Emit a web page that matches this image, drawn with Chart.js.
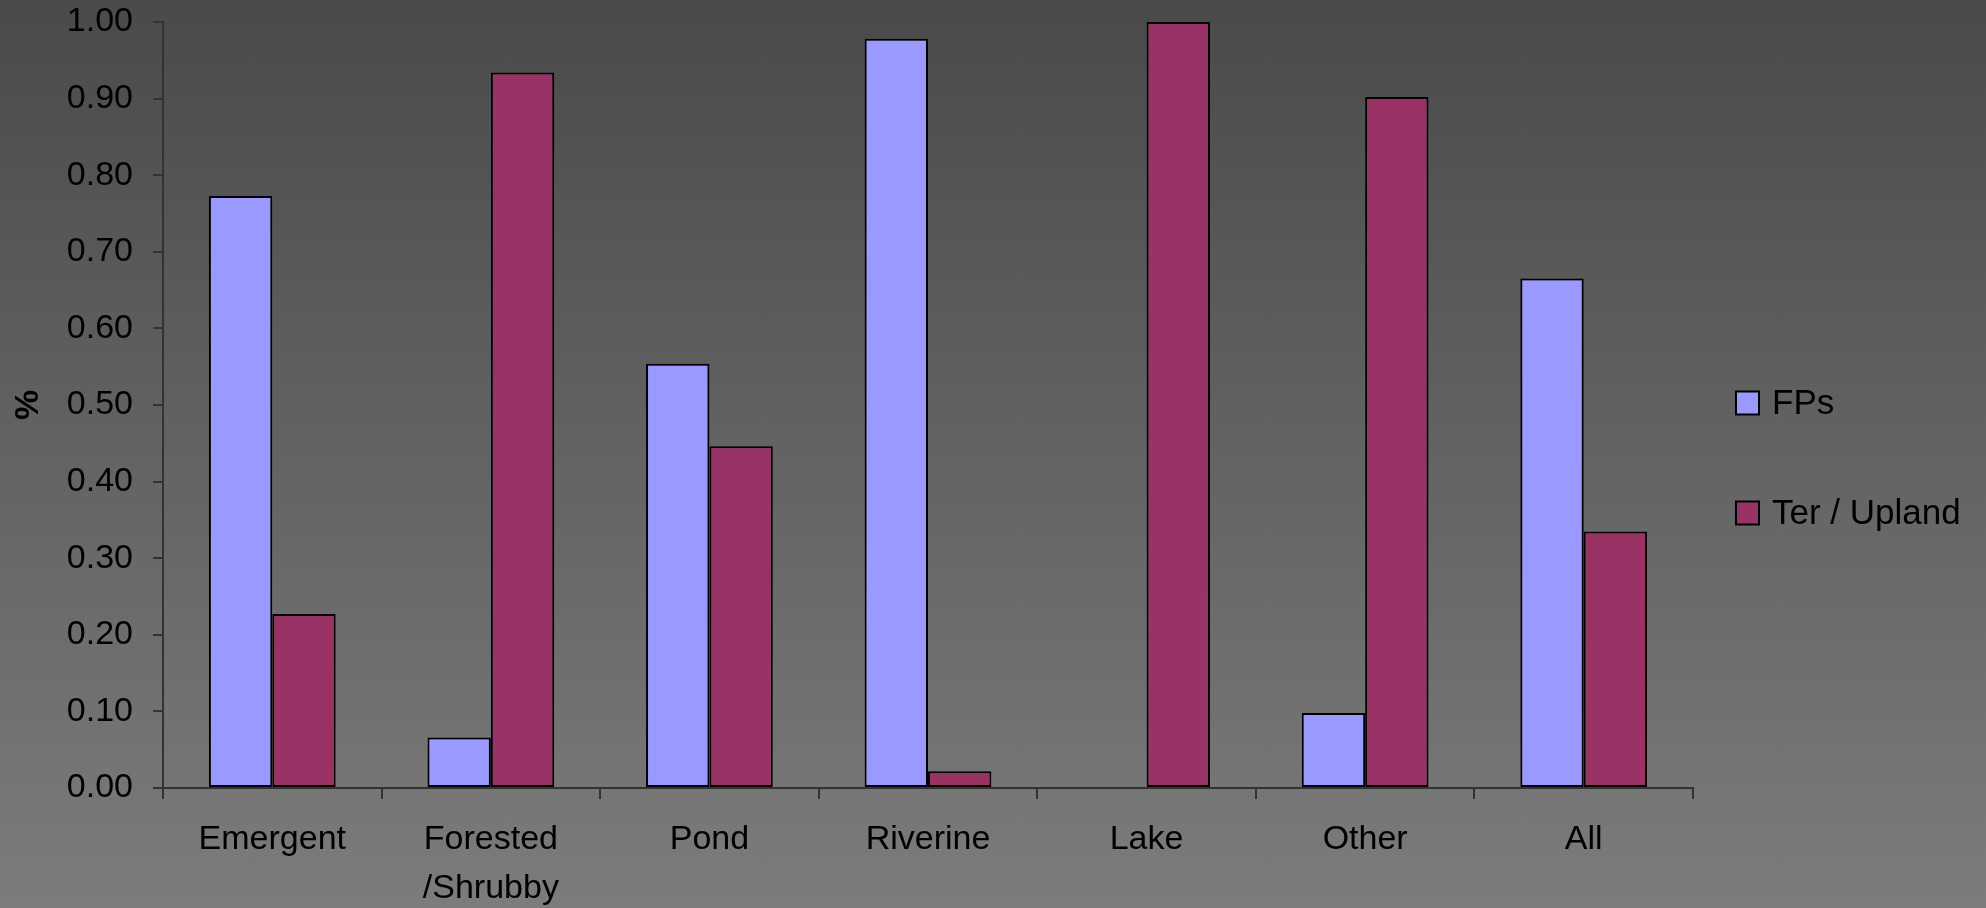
<!DOCTYPE html>
<html>
<head>
<meta charset="utf-8">
<script src="https://cdn.jsdelivr.net/npm/chart.js@4"></script>
<style>
    html, body { margin: 0; padding: 0; }
    #grafico { display: block; background: linear-gradient(to bottom, #4a4a4a, #7c7c7c); }
</style>
</head>
<body>
<canvas id="grafico" width="1986" height="908"></canvas>
<script>
const categorias = ["Emergent", ["Forested", "/Shrubby"], "Pond", "Riverine", "Lake", "Other", "All"];
const fps = [0.773, 0.066, 0.554, 0.978, 0, 0.098, 0.665];
const terUpland = [0.227, 0.934, 0.446, 0.022, 1.00, 0.902, 0.335];
const nombresSeries = ["FPs", "Ter / Upland"];
const coloresSeries = ["#9999ff", "#993366"];

const fuente = "'Liberation Sans', Arial, sans-serif";
const colorEje = "#333333";

// leyenda dibujada a mano para poder separar los items como en la imagen
const leyenda = {
    id: "leyenda",
    afterDraw(chart) {
        const ctx = chart.ctx;
        const area = chart.chartArea;
        const medio = (area.top + area.bottom) / 2 - 2;
        const x = area.right + 43;
        chart.data.datasets.forEach((ds, i) => {
            const cy = medio + i * 110;
            ctx.save();
            ctx.fillStyle = ds.backgroundColor;
            ctx.fillRect(x, cy - 11.5, 23, 23);
            ctx.lineWidth = 2;
            ctx.strokeStyle = "#000";
            ctx.strokeRect(x, cy - 11.5, 23, 23);
            ctx.fillStyle = "#000";
            ctx.font = "35px " + fuente;
            ctx.textBaseline = "middle";
            ctx.fillText(ds.label, x + 36, cy + 1);
            ctx.restore();
        });
    }
};

new Chart(document.getElementById("grafico").getContext("2d"), {
    type: "bar",
    data: {
        labels: categorias,
        datasets: [
            { label: nombresSeries[0], data: fps, backgroundColor: coloresSeries[0] },
            { label: nombresSeries[1], data: terUpland, backgroundColor: coloresSeries[1] }
        ]
    },
    options: {
        responsive: false,
        animation: false,
        layout: { padding: { left: 0, right: 293, top: 22, bottom: 0 } },
        datasets: {
            bar: {
                borderColor: "#000",
                borderWidth: 2,
                borderSkipped: false,
                categoryPercentage: 0.58,
                barPercentage: 1
            }
        },
        plugins: {
            legend: { display: false },
            tooltip: { enabled: false }
        },
        scales: {
            x: {
                grid: { display: true, offset: true, drawOnChartArea: false, tickLength: 11, color: colorEje, lineWidth: 2 },
                border: { color: colorEje, width: 2 },
                ticks: { color: "#000", font: { family: fuente, size: 34, lineHeight: 1.44 }, padding: 16, maxRotation: 0, autoSkip: false },
                afterFit: s => { s.height = 120; }
            },
            y: {
                min: 0,
                max: 1,
                grid: { display: true, drawOnChartArea: false, tickLength: 10, color: colorEje, lineWidth: 2 },
                border: { color: colorEje, width: 2 },
                ticks: { stepSize: 0.1, color: "#000", font: { family: fuente, size: 34 }, padding: 20, callback: v => v.toFixed(2) },
                title: { display: true, text: "%", color: "#000", font: { family: fuente, size: 34, weight: "bold" }, padding: { top: 8, bottom: 0 } },
                afterFit: s => {
                    s.width = 163;
                    s.paddingTop = 0;
                    s.paddingBottom = 0;
                }
            }
        }
    },
    plugins: [leyenda]
});
</script>
</body>
</html>
